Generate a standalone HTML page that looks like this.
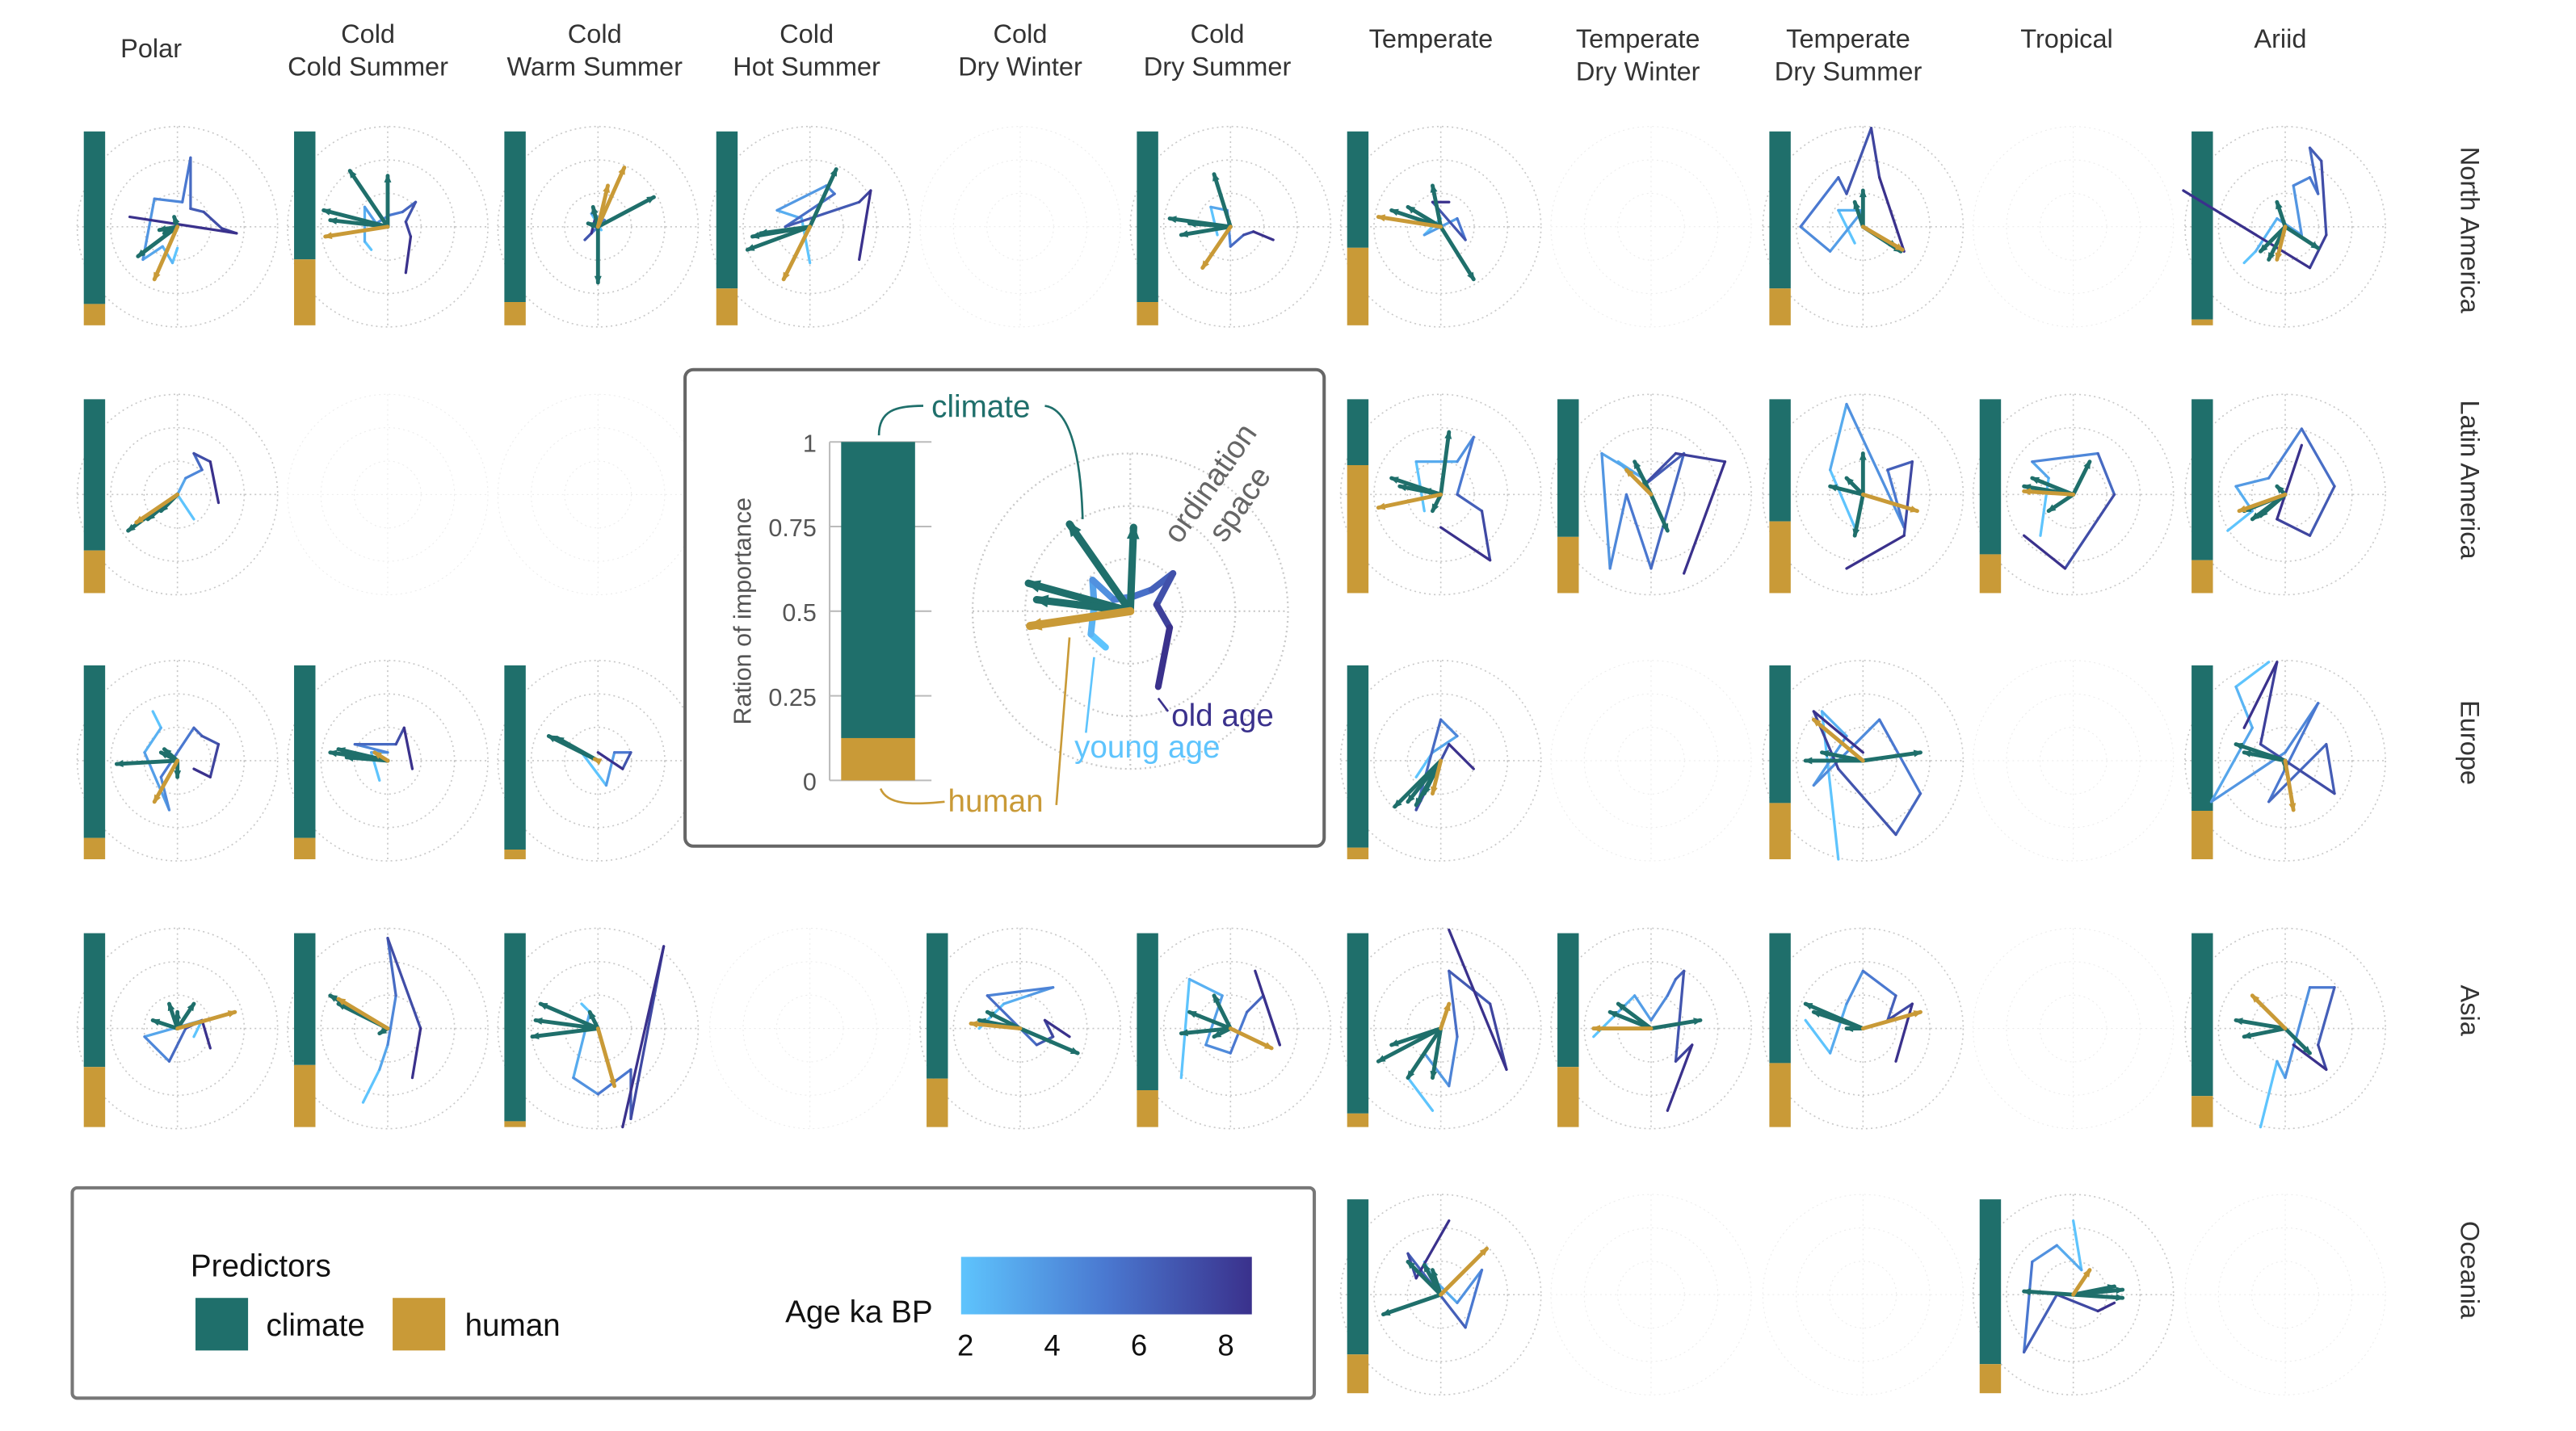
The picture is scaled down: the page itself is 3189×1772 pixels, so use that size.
<!DOCTYPE html>
<html><head><meta charset="utf-8"><style>
html,body{margin:0;padding:0;background:#fff}
svg{display:block;font-family:"Liberation Sans",sans-serif}
</style></head><body>
<svg id="chart" width="3189" height="1772" viewBox="0 0 1568 871" preserveAspectRatio="none" xmlns="http://www.w3.org/2000/svg">
<defs>
<linearGradient id="ageGrad" x1="0" x2="1" y1="0" y2="0">
<stop offset="0" stop-color="#5ec4fd"/><stop offset="0.5" stop-color="#4a78d0"/><stop offset="1" stop-color="#3a318c"/>
</linearGradient>
</defs>
<g id="panels"></g>
<g id="headers" font-size="16" fill="#333" text-anchor="middle">
<text x="92" y="35">Polar</text>
<text x="224" y="26"><tspan x="224">Cold</tspan><tspan x="224" dy="20">Cold Summer</tspan></text>
<text x="362" y="26"><tspan x="362">Cold</tspan><tspan x="362" dy="20">Warm Summer</tspan></text>
<text x="491" y="26"><tspan x="491">Cold</tspan><tspan x="491" dy="20">Hot Summer</tspan></text>
<text x="621" y="26"><tspan x="621">Cold</tspan><tspan x="621" dy="20">Dry Winter</tspan></text>
<text x="741" y="26"><tspan x="741">Cold</tspan><tspan x="741" dy="20">Dry Summer</tspan></text>
<text x="871" y="29">Temperate</text>
<text x="997" y="29"><tspan x="997">Temperate</tspan><tspan x="997" dy="20">Dry Winter</tspan></text>
<text x="1125" y="29"><tspan x="1125">Temperate</tspan><tspan x="1125" dy="20">Dry Summer</tspan></text>
<text x="1258" y="29">Tropical</text>
<text x="1388" y="29">Ariid</text>
</g>
<g id="rowlabels" font-size="16" fill="#333" text-anchor="middle">
<text transform="translate(1498,140) rotate(90)">North America</text>
<text transform="translate(1498,292) rotate(90)">Latin America</text>
<text transform="translate(1498,452) rotate(90)">Europe</text>
<text transform="translate(1498,615) rotate(90)">Asia</text>
<text transform="translate(1498,773) rotate(90)">Oceania</text>
</g>
<g id="inset"></g>
<g id="legend">
<rect x="44" y="723" width="756" height="128" rx="3" fill="#fff" stroke="#777" stroke-width="2"/>
<text x="116" y="777" font-size="19" fill="#111">Predictors</text>
<rect x="119" y="790" width="32" height="32" fill="#1f6f6b"/>
<text x="162" y="813" font-size="19" fill="#111">climate</text>
<rect x="239" y="790" width="32" height="32" fill="#c99a37"/>
<text x="283" y="813" font-size="19" fill="#111">human</text>
<text x="478" y="805" font-size="19" fill="#111">Age ka BP</text>
<rect x="585" y="765" width="177" height="35" fill="url(#ageGrad)"/>
<g font-size="18" fill="#111" text-anchor="middle" id="cbticks"></g>
</g>
</svg>
<script>
const NS="http://www.w3.org/2000/svg";
const colCenters=[108,236,364,493,621,749,877,1005,1134,1262,1391];
const rowCenters=[138,301,463,626,788];
const hiddenPanels=["1-3","1-4","1-5","2-3","2-4","2-5","4-0","4-1","4-2","4-3","4-4","4-5"];
const humanShare={
"0-0":0.11,"0-1":0.34,"0-2":0.12,"0-3":0.19,"0-5":0.12,"0-6":0.40,"0-8":0.19,"0-10":0.03,
"1-0":0.22,"1-6":0.66,"1-7":0.29,"1-8":0.37,"1-9":0.20,"1-10":0.17,
"2-0":0.11,"2-1":0.11,"2-2":0.05,"2-6":0.06,"2-8":0.29,"2-10":0.25,
"3-0":0.31,"3-1":0.32,"3-2":0.03,"3-4":0.25,"3-5":0.19,"3-6":0.07,"3-7":0.31,"3-8":0.33,"3-10":0.16,
"4-6":0.20,"4-9":0.15};
const climateArrows={
"0-0":[[-24,18],[-11,2],[-2,-6],[-8,4]],
"0-1":[[-23,-34],[0,-31],[-39,-10],[-35,-4]],
"0-2":[[34,-18],[0,34],[-3,-12],[-6,-2]],
"0-3":[[16,-35],[-38,14],[-35,6],[-30,4]],
"0-5":[[-37,-5],[-30,5],[-10,-32],[-25,-2]],
"0-6":[[-30,-10],[-20,-12],[-5,-25],[20,32]],
"0-8":[[0,-22],[-5,-15],[23,15],[20,12]],
"0-10":[[20,13],[-5,-15],[-10,20],[-15,15]],
"1-0":[[-30,22],[-18,15],[-10,10]],
"1-6":[[5,-38],[-30,-10],[-25,-5],[-5,10],[-10,-3]],
"1-7":[[10,22],[-5,-10],[-10,-20]],
"1-8":[[-5,25],[-10,-10],[-20,-5],[0,-25]],
"1-9":[[-30,-5],[-25,-10],[-15,10],[10,-20]],
"1-10":[[-25,10],[-20,15],[-15,13],[-5,-5]],
"2-0":[[-37,2],[-10,-5],[0,10],[-8,-7]],
"2-1":[[-35,-5],[-30,-7],[-20,-3],[-25,-2]],
"2-2":[[-30,-15],[-25,-14]],
"2-6":[[-28,28],[-20,25],[-10,20],[-15,27]],
"2-8":[[35,-5],[-35,0],[-25,-5]],
"2-10":[[-30,-10],[-25,-5],[0,5]],
"3-0":[[-5,-15],[-15,-5],[0,-10],[10,-15]],
"3-1":[[-35,-20],[-30,-15],[-5,3]],
"3-2":[[-38,-5],[-40,5],[-35,-15],[-5,-10]],
"3-4":[[-25,-5],[35,15],[-20,-10]],
"3-5":[[-30,3],[-25,-10],[-10,-20],[-10,5]],
"3-6":[[-38,20],[-30,10],[-20,30],[-5,30]],
"3-7":[[30,-5],[-20,-15],[-25,-10]],
"3-8":[[-35,-15],[-30,-10],[-10,0]],
"3-10":[[-30,-5],[-25,5],[15,15]],
"4-6":[[-35,12],[-5,-15],[-10,-18],[-20,-20]],
"4-9":[[-30,-2],[30,2],[30,-3],[25,-5]]};
const humanArrows={
"0-0":[[-14,32]],"0-1":[[-38,6]],"0-2":[[16,-36],[6,-25]],"0-3":[[-16,32]],"0-5":[[-17,25]],
"0-6":[[-38,-6]],"0-8":[[24,14]],"0-10":[[-5,20]],
"1-0":[[-25,17]],"1-6":[[-38,8]],"1-7":[[-15,-15]],"1-8":[[33,10]],"1-9":[[-30,-2]],"1-10":[[-28,10]],
"2-0":[[-14,25]],"2-1":[[-8,-5]],"2-2":[[-2,-1]],"2-6":[[-5,20]],"2-8":[[-30,-25]],"2-10":[[5,30]],
"3-0":[[35,-10]],"3-1":[[-30,-18]],"3-2":[[10,35]],"3-4":[[-30,-3]],"3-5":[[25,12]],"3-6":[[5,-15]],
"3-7":[[-35,0]],"3-8":[[35,-10]],"3-10":[[-20,-20]],
"4-6":[[28,-28]],"4-9":[[10,-15]]};
const trajectories={
"0-0":[[0,13],[-3,22],[-9,12],[-21,20],[-14,-17],[3,-15],[8,-42],[8,-11],[16,-9],[27,1],[36,4],[-29,-6]],
"0-1":[[-10,14],[-14,9],[-14,-12],[-7,-2],[1,-7],[9,-9],[17,-15],[11,-3],[14,6],[11,28]],
"0-2":[[2,2],[-4,-8],[4,-4],[-8,8],[-4,4],[-2,-4]],
"0-3":[[0,22],[-5,-5],[-20,-10],[10,-25],[15,-20],[-15,0],[30,-15],[37,-22],[30,20]],
"0-5":[[-8,5],[-12,-12],[-2,-10],[0,12],[8,5],[14,3],[26,8]],
"0-6":[[0,-5],[-10,5],[10,-5],[15,8],[-5,-15],[5,-15]],
"0-8":[[-5,10],[-15,-10],[0,-10],[-20,15],[-38,0],[-15,-30],[-10,-20],[5,-60],[10,-30],[25,15]],
"0-10":[[-25,22],[-18,15],[-5,-5],[10,5],[5,-25],[15,-30],[20,-20],[15,-48],[22,-40],[25,5],[15,25],[-62,-22]],
"1-0":[[10,15],[0,0],[5,-10],[15,-15],[10,-25],[20,-20],[25,5]],
"1-6":[[-10,10],[-15,-20],[10,-20],[20,-35],[10,0],[25,10],[30,40],[0,20]],
"1-7":[[0,0],[-20,-20],[-5,-10],[-30,-25],[-25,45],[-15,0],[0,45],[20,-25],[-5,-5],[15,-25],[45,-20],[20,48]],
"1-8":[[-5,20],[-20,-15],[-10,-55],[25,20],[15,-15],[30,-20],[25,25],[-10,45]],
"1-9":[[-20,25],[-15,-10],[-25,-20],[15,-25],[25,0],[-5,45],[-30,25]],
"1-10":[[-35,22],[-20,10],[-30,-5],[-10,-10],[10,-40],[30,-5],[15,25],[-5,15],[10,-30]],
"2-0":[[-15,-30],[-10,-20],[-20,-5],[-5,30],[-10,10],[10,-20],[15,-15],[25,-10],[20,10],[10,5]],
"2-1":[[-5,12],[-10,-5],[0,-5],[-20,-10],[5,-10],[10,-20],[15,5]],
"2-2":[[-10,-5],[5,15],[10,-5],[20,-5],[15,5],[0,-5]],
"2-6":[[-15,10],[-5,-5],[10,-15],[0,-25],[-15,30],[5,-10],[20,5]],
"2-8":[[-15,60],[-25,-30],[-10,-15],[-30,15],[10,-25],[35,20],[20,45],[-15,5],[-30,-30],[0,-5]],
"2-10":[[-10,-60],[-30,-45],[-20,-20],[-45,25],[0,-5],[20,-35],[-10,25],[25,-10],[30,20],[-15,-10],[-5,-60],[-25,-20]],
"3-0":[[10,5],[15,-5],[-20,5],[-5,20],[5,0],[15,-5],[20,12]],
"3-1":[[-15,45],[-5,25],[0,10],[5,-20],[0,-55],[20,0],[15,30]],
"3-2":[[-10,-15],[-5,-10],[-15,30],[0,40],[20,25],[20,55],[40,-50],[15,60]],
"3-4":[[-25,0],[-10,-15],[5,-20],[20,-25],[-20,-20],[10,10],[20,5],[15,-5],[30,5]],
"3-5":[[-30,30],[-25,-30],[-5,-20],[-15,10],[0,15],[10,-10],[20,-20],[25,-5],[30,10],[15,-35]],
"3-6":[[-5,50],[-20,30],[-10,15],[5,35],[10,5],[5,-35],[30,-15],[40,25],[5,-60]],
"3-7":[[-35,5],[-20,-10],[-10,-20],[0,-5],[10,-20],[15,-30],[20,-35],[15,20],[25,10],[10,50]],
"3-8":[[-35,-5],[-20,15],[-10,-15],[0,-35],[20,-20],[15,-5],[30,-15],[20,20]],
"3-10":[[-15,60],[-5,20],[0,30],[15,-25],[30,-25],[20,10],[25,25],[5,10]],
"4-6":[[-10,-20],[-5,-10],[10,5],[25,-15],[15,20],[-20,-25],[-15,-10],[5,-45]],
"4-9":[[0,-45],[5,-15],[-10,-30],[-25,-20],[-30,35],[-10,0],[15,10],[25,5]]};
const insetHuman=0.125;
const insetTicks=[0,0.25,0.5,0.75,1];
const insetTickLabels=["0","0.25","0.5","0.75","1"];
const insetClimate=[[-37,-53],[2,-51],[-62,-17],[-57,-7]];
const insetHumanArrows=[[-61,9]];
const insetTraj=[[-15,22],[-24,14],[-22,-4],[-23,-19],[-10,-7],[2,-9],[13,-13],[26,-23],[16,-4],[24,10],[17,46]];
const cbTicks=[2,4,6,8];
const cbMin=1.9, cbMax=8.6;

const TEAL="#1f6f6b", GOLD="#c99a37";
function mk(tag,attrs,parent){const e=document.createElementNS(NS,tag);for(const k in attrs)e.setAttribute(k,attrs[k]);parent.appendChild(e);return e;}
function lerp(a,b,t){return a+(b-a)*t;}
function hex(c){return [parseInt(c.slice(1,3),16),parseInt(c.slice(3,5),16),parseInt(c.slice(5,7),16)];}
const stops=[hex("#5ec4fd"),hex("#4a78d0"),hex("#3a318c")];
function ageColor(t){let a,b,u;if(t<0.5){a=stops[0];b=stops[1];u=t*2;}else{a=stops[1];b=stops[2];u=(t-0.5)*2;}
return "rgb("+[0,1,2].map(i=>Math.round(lerp(a[i],b[i],u))).join(",")+")";}
function arrow(g,x0,y0,x1,y1,col,w,hs){
 const l=mk("line",{x1:x0,y1:y0,x2:x1,y2:y1,stroke:col,"stroke-width":w,"stroke-linecap":"round"},g);
 
 
 const dx=x1-x0,dy=y1-y0,L=Math.hypot(dx,dy)||1,ux=dx/L,uy=dy/L;
 const bx=x1-ux*hs,by=y1-uy*hs;
 const p=mk("polygon",{points:`${x1+ux*hs*0.3},${y1+uy*hs*0.3} ${bx-uy*hs*0.55},${by+ux*hs*0.55} ${bx+uy*hs*0.55},${by-ux*hs*0.55}`,fill:col},g);
 
 
}
function polarGrid(g,cx,cy,r,sw){
 [1,2,3].forEach(i=>{const c=mk("circle",{cx:cx,cy:cy,r:r*i/3,fill:"none",stroke:"#c8c8c8","stroke-width":sw,"stroke-dasharray":"1 2"},g);
 
 });
 const h=mk("line",{x1:cx-r,y1:cy,x2:cx+r,y2:cy,stroke:"#c8c8c8","stroke-width":sw,"stroke-dasharray":"1 2"},g);
 
 
 const v=mk("line",{x1:cx,y1:cy-r,x2:cx,y2:cy+r,stroke:"#c8c8c8","stroke-width":sw,"stroke-dasharray":"1 2"},g);
 
 
}
function traj(g,pts,sx,sy,w){
 const n=pts.length;
 for(let i=0;i<n-1;i++){
  const s=mk("line",{x1:sx(pts[i][0]),y1:sy(pts[i][1]),x2:sx(pts[i+1][0]),y2:sy(pts[i+1][1]),stroke:ageColor(n>2?i/(n-2):0),"stroke-width":w,"stroke-linecap":"round"},g);
  
  
 }
}
const panels=document.getElementById("panels");
rowCenters.forEach((cy,r)=>{colCenters.forEach((cx,c)=>{
 const key=r+"-"+c; if(hiddenPanels.includes(key))return;
 const g=mk("g",{},panels);
 
 
 const active=key in humanShare;
 polarGrid(g,cx,cy,61,active?0.8:0.5);
 if(!active){g.setAttribute("opacity","0.35");return;}
 const sx=v=>cx+v, sy=v=>cy+v;
 const bx=cx-57,bt=cy-58,bh=118,yb=v=>bt+bh*(1-v);
 const hs=humanShare[key];
 const rc=mk("rect",{x:bx,y:bt,width:13,height:yb(hs)-bt,fill:TEAL},g);
 
 
 const rh=mk("rect",{x:bx,y:yb(hs),width:13,height:bt+bh-yb(hs),fill:GOLD},g);
 
 
 traj(g,trajectories[key]||[],sx,sy,1.6);
 (climateArrows[key]||[]).forEach(a=>arrow(g,cx,cy,sx(a[0]),sy(a[1]),TEAL,2.4,4));
 (humanArrows[key]||[]).forEach(a=>arrow(g,cx,cy,sx(a[0]),sy(a[1]),GOLD,2.4,4));
});});
const ins=document.getElementById("inset");
const box=mk("rect",{x:417,y:225,width:389,height:290,rx:5,fill:"#fff",stroke:"#666","stroke-width":2},ins);


const iy=v=>475-206*v;
const ax=mk("line",{x1:505,y1:iy(0),x2:505,y2:iy(1),stroke:"#bbb","stroke-width":1},ins);


insetTicks.forEach((t,i)=>{
 const l=mk("line",{x1:505,y1:iy(t),x2:567,y2:iy(t),stroke:"#bbb","stroke-width":1},ins);
 
 
 const tx=mk("text",{x:497,y:iy(t)+6,"text-anchor":"end","font-size":15,fill:"#555"},ins);
 tx.textContent=insetTickLabels[i];
 
 
});
const ib1=mk("rect",{x:512,y:iy(1),width:45,height:iy(insetHuman)-iy(1),fill:TEAL},ins);


const ib2=mk("rect",{x:512,y:iy(insetHuman),width:45,height:iy(0)-iy(insetHuman),fill:GOLD},ins);


const yl=mk("text",{transform:"translate(457,372) rotate(-90)","text-anchor":"middle","font-size":15,fill:"#555"},ins);
yl.textContent="Ration of importance";


const pcx=688,pcy=372;
polarGrid(ins,pcx,pcy,96,1.1);
traj(ins,insetTraj,v=>pcx+v,v=>pcy+v,4);
insetClimate.forEach(a=>arrow(ins,pcx,pcy,pcx+a[0],pcy+a[1],TEAL,4.5,7));
insetHumanArrows.forEach(a=>arrow(ins,pcx,pcy,pcx+a[0],pcy+a[1],GOLD,5,7));
const ann=[
 ["path",{d:"M535,265 C535,250 545,247 562,247",stroke:TEAL},"climate-connector-left"],
 ["path",{d:"M636,247 C652,249 658,280 659,316",stroke:TEAL},"climate-connector-right"],
 ["path",{d:"M536,480 C540,490 555,490 575,488",stroke:GOLD},"human-connector-left"],
 ["path",{d:"M643,490 L651,388",stroke:GOLD},"human-connector-right"],
 ["path",{d:"M661,446 L666,400",stroke:"#5ec4fd"},"young-age-connector"],
 ["path",{d:"M705,425 L711,433",stroke:"#3a318c"},"old-age-connector"]];
ann.forEach(a=>{const p=mk(a[0],Object.assign({fill:"none","stroke-width":1.3},a[1]),ins);
 
 });
const labs=[["climate",567,254,TEAL,null,"label-climate"],["human",577,494,GOLD,null,"label-human"],
 ["old age",713,442,"#3a318c",null,"label-old-age"],["young age",654,461,"#5ec4fd",null,"label-young-age"]];
labs.forEach(l=>{const t=mk("text",{x:l[1],y:l[2],"font-size":19,fill:l[3]},ins);t.textContent=l[0];
 
 });
const os=mk("text",{transform:"translate(745,300) rotate(-55)","font-size":19,fill:"#666","text-anchor":"middle"},ins);
os.innerHTML='<tspan x="0" dy="-4">ordination</tspan><tspan x="0" dy="22">space</tspan>';


const cbg=document.getElementById("cbticks");
const cx0=585,cx1=762;
cbTicks.forEach(v=>{const x=cx0+(v-cbMin)/(cbMax-cbMin)*(cx1-cx0);
 const t=mk("text",{x:x,y:825},cbg);t.textContent=v;
 
 });
</script>
</body></html>
